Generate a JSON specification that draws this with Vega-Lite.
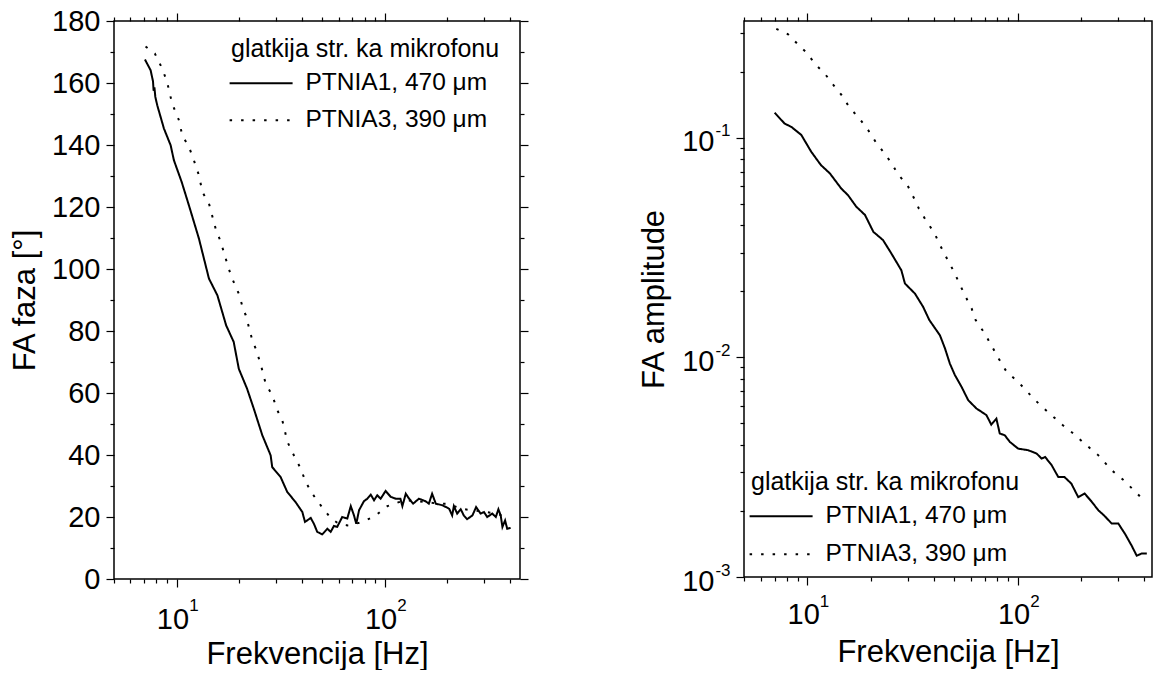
{
  "$schema": "https://vega.github.io/schema/vega-lite/v6.json",
  "padding": {"left": 8, "top": 6, "right": 0, "bottom": 0},
  "config": {
    "font": "Liberation Sans",
    "view": {"stroke": "black", "strokeWidth": 1.5},
    "axis": {"domain": false, "grid": false, "tickColor": "black", "tickWidth": 1.2, "labelColor": "black", "titleColor": "black", "titleFontWeight": "normal", "labelFlush": false, "labelOverlap": false, "labelFont": "Liberation Sans", "titleFont": "Liberation Sans"},
    "legend": {"labelColor": "black", "titleColor": "black", "titleFontWeight": "normal", "labelFont": "Liberation Sans", "titleFont": "Liberation Sans"}
  },
  "datasets": {
    "phase": [
      {"series": "PTNIA1, 470 μm", "f": 7.04, "v": 167.6},
      {"series": "PTNIA1, 470 μm", "f": 7.5, "v": 164.1},
      {"series": "PTNIA1, 470 μm", "f": 7.7, "v": 160.5},
      {"series": "PTNIA1, 470 μm", "f": 7.75, "v": 157.5},
      {"series": "PTNIA1, 470 μm", "f": 7.82, "v": 158.6},
      {"series": "PTNIA1, 470 μm", "f": 7.9, "v": 155.5},
      {"series": "PTNIA1, 470 μm", "f": 8.07, "v": 152.8},
      {"series": "PTNIA1, 470 μm", "f": 8.69, "v": 145.3},
      {"series": "PTNIA1, 470 μm", "f": 9.36, "v": 139.9},
      {"series": "PTNIA1, 470 μm", "f": 9.7, "v": 135.1},
      {"series": "PTNIA1, 470 μm", "f": 10.57, "v": 128.1},
      {"series": "PTNIA1, 470 μm", "f": 11.46, "v": 120.5},
      {"series": "PTNIA1, 470 μm", "f": 12.8, "v": 109.8},
      {"series": "PTNIA1, 470 μm", "f": 14.3, "v": 96.9},
      {"series": "PTNIA1, 470 μm", "f": 15.7, "v": 91.5},
      {"series": "PTNIA1, 470 μm", "f": 17.3, "v": 81.8},
      {"series": "PTNIA1, 470 μm", "f": 18.8, "v": 76.5},
      {"series": "PTNIA1, 470 μm", "f": 19.9, "v": 67.8},
      {"series": "PTNIA1, 470 μm", "f": 21.8, "v": 61.4},
      {"series": "PTNIA1, 470 μm", "f": 23.5, "v": 54.9},
      {"series": "PTNIA1, 470 μm", "f": 25.8, "v": 46.4},
      {"series": "PTNIA1, 470 μm", "f": 28.3, "v": 39.9},
      {"series": "PTNIA1, 470 μm", "f": 28.8, "v": 36.1},
      {"series": "PTNIA1, 470 μm", "f": 31.6, "v": 32.9},
      {"series": "PTNIA1, 470 μm", "f": 34.0, "v": 28.1},
      {"series": "PTNIA1, 470 μm", "f": 37.3, "v": 24.8},
      {"series": "PTNIA1, 470 μm", "f": 40.2, "v": 21.6},
      {"series": "PTNIA1, 470 μm", "f": 41.4, "v": 18.4},
      {"series": "PTNIA1, 470 μm", "f": 44.1, "v": 19.7},
      {"series": "PTNIA1, 470 μm", "f": 45.7, "v": 17.8},
      {"series": "PTNIA1, 470 μm", "f": 47.4, "v": 15.2},
      {"series": "PTNIA1, 470 μm", "f": 50.1, "v": 14.4},
      {"series": "PTNIA1, 470 μm", "f": 53.0, "v": 16.2},
      {"series": "PTNIA1, 470 μm", "f": 55.0, "v": 15.2},
      {"series": "PTNIA1, 470 μm", "f": 57.0, "v": 17.1},
      {"series": "PTNIA1, 470 μm", "f": 59.1, "v": 16.8},
      {"series": "PTNIA1, 470 μm", "f": 62.5, "v": 20.0},
      {"series": "PTNIA1, 470 μm", "f": 66.1, "v": 19.5},
      {"series": "PTNIA1, 470 μm", "f": 68.7, "v": 23.5},
      {"series": "PTNIA1, 470 μm", "f": 71.2, "v": 20.5},
      {"series": "PTNIA1, 470 μm", "f": 73.0, "v": 17.8},
      {"series": "PTNIA1, 470 μm", "f": 75.3, "v": 22.2},
      {"series": "PTNIA1, 470 μm", "f": 79.5, "v": 25.1},
      {"series": "PTNIA1, 470 μm", "f": 82.5, "v": 25.9},
      {"series": "PTNIA1, 470 μm", "f": 85.7, "v": 27.2},
      {"series": "PTNIA1, 470 μm", "f": 88.9, "v": 25.4},
      {"series": "PTNIA1, 470 μm", "f": 92.1, "v": 27.0},
      {"series": "PTNIA1, 470 μm", "f": 95.6, "v": 25.9},
      {"series": "PTNIA1, 470 μm", "f": 101, "v": 28.4},
      {"series": "PTNIA1, 470 μm", "f": 106.9, "v": 26.5},
      {"series": "PTNIA1, 470 μm", "f": 113, "v": 25.9},
      {"series": "PTNIA1, 470 μm", "f": 119, "v": 25.9},
      {"series": "PTNIA1, 470 μm", "f": 121.6, "v": 23.5},
      {"series": "PTNIA1, 470 μm", "f": 126.3, "v": 27.5},
      {"series": "PTNIA1, 470 μm", "f": 131, "v": 25.9},
      {"series": "PTNIA1, 470 μm", "f": 137, "v": 24.3},
      {"series": "PTNIA1, 470 μm", "f": 146, "v": 25.9},
      {"series": "PTNIA1, 470 μm", "f": 157, "v": 25.1},
      {"series": "PTNIA1, 470 μm", "f": 163, "v": 24.3},
      {"series": "PTNIA1, 470 μm", "f": 169, "v": 27.5},
      {"series": "PTNIA1, 470 μm", "f": 176, "v": 24.3},
      {"series": "PTNIA1, 470 μm", "f": 189, "v": 23.8},
      {"series": "PTNIA1, 470 μm", "f": 204, "v": 22.7},
      {"series": "PTNIA1, 470 μm", "f": 211, "v": 20.5},
      {"series": "PTNIA1, 470 μm", "f": 215, "v": 23.5},
      {"series": "PTNIA1, 470 μm", "f": 223, "v": 21.1},
      {"series": "PTNIA1, 470 μm", "f": 232, "v": 22.5},
      {"series": "PTNIA1, 470 μm", "f": 240, "v": 20.5},
      {"series": "PTNIA1, 470 μm", "f": 249, "v": 19.3},
      {"series": "PTNIA1, 470 μm", "f": 264, "v": 20.5},
      {"series": "PTNIA1, 470 μm", "f": 275, "v": 23.2},
      {"series": "PTNIA1, 470 μm", "f": 289, "v": 21.1},
      {"series": "PTNIA1, 470 μm", "f": 300, "v": 21.6},
      {"series": "PTNIA1, 470 μm", "f": 311, "v": 20.0},
      {"series": "PTNIA1, 470 μm", "f": 329, "v": 21.1},
      {"series": "PTNIA1, 470 μm", "f": 342, "v": 20.0},
      {"series": "PTNIA1, 470 μm", "f": 352, "v": 22.5},
      {"series": "PTNIA1, 470 μm", "f": 361, "v": 20.5},
      {"series": "PTNIA1, 470 μm", "f": 368, "v": 16.8},
      {"series": "PTNIA1, 470 μm", "f": 379, "v": 18.9},
      {"series": "PTNIA1, 470 μm", "f": 388, "v": 16.2},
      {"series": "PTNIA1, 470 μm", "f": 403, "v": 16.5},
      {"series": "PTNIA3, 390 μm", "f": 7.09, "v": 171.8},
      {"series": "PTNIA3, 390 μm", "f": 7.86, "v": 169.5},
      {"series": "PTNIA3, 390 μm", "f": 8.53, "v": 164.6},
      {"series": "PTNIA3, 390 μm", "f": 9.0, "v": 160.3},
      {"series": "PTNIA3, 390 μm", "f": 9.52, "v": 153.3},
      {"series": "PTNIA3, 390 μm", "f": 10.26, "v": 148.0},
      {"series": "PTNIA3, 390 μm", "f": 10.64, "v": 143.1},
      {"series": "PTNIA3, 390 μm", "f": 11.46, "v": 139.4},
      {"series": "PTNIA3, 390 μm", "f": 12.1, "v": 135.1},
      {"series": "PTNIA3, 390 μm", "f": 12.8, "v": 130.2},
      {"series": "PTNIA3, 390 μm", "f": 13.3, "v": 124.8},
      {"series": "PTNIA3, 390 μm", "f": 14.3, "v": 121.1},
      {"series": "PTNIA3, 390 μm", "f": 15.4, "v": 113.0},
      {"series": "PTNIA3, 390 μm", "f": 16.3, "v": 108.7},
      {"series": "PTNIA3, 390 μm", "f": 17.8, "v": 100.1},
      {"series": "PTNIA3, 390 μm", "f": 18.5, "v": 96.9},
      {"series": "PTNIA3, 390 μm", "f": 19.9, "v": 92.0},
      {"series": "PTNIA3, 390 μm", "f": 21.0, "v": 86.5},
      {"series": "PTNIA3, 390 μm", "f": 21.5, "v": 85.1},
      {"series": "PTNIA3, 390 μm", "f": 23.1, "v": 77.0},
      {"series": "PTNIA3, 390 μm", "f": 24.0, "v": 74.3},
      {"series": "PTNIA3, 390 μm", "f": 25.3, "v": 69.5},
      {"series": "PTNIA3, 390 μm", "f": 26.8, "v": 63.0},
      {"series": "PTNIA3, 390 μm", "f": 28.8, "v": 59.3},
      {"series": "PTNIA3, 390 μm", "f": 30.5, "v": 54.4},
      {"series": "PTNIA3, 390 μm", "f": 32.2, "v": 51.2},
      {"series": "PTNIA3, 390 μm", "f": 34.1, "v": 44.2},
      {"series": "PTNIA3, 390 μm", "f": 36.6, "v": 39.9},
      {"series": "PTNIA3, 390 μm", "f": 39.5, "v": 35.6},
      {"series": "PTNIA3, 390 μm", "f": 41.7, "v": 31.3},
      {"series": "PTNIA3, 390 μm", "f": 44.9, "v": 27.5},
      {"series": "PTNIA3, 390 μm", "f": 49.2, "v": 23.8},
      {"series": "PTNIA3, 390 μm", "f": 55.0, "v": 19.7},
      {"series": "PTNIA3, 390 μm", "f": 60.2, "v": 17.8},
      {"series": "PTNIA3, 390 μm", "f": 66.1, "v": 17.3},
      {"series": "PTNIA3, 390 μm", "f": 69.9, "v": 17.5},
      {"series": "PTNIA3, 390 μm", "f": 79.5, "v": 18.6},
      {"series": "PTNIA3, 390 μm", "f": 90.5, "v": 20.5},
      {"series": "PTNIA3, 390 μm", "f": 103, "v": 23.5},
      {"series": "PTNIA3, 390 μm", "f": 117, "v": 24.8},
      {"series": "PTNIA3, 390 μm", "f": 135, "v": 25.4},
      {"series": "PTNIA3, 390 μm", "f": 157, "v": 24.8},
      {"series": "PTNIA3, 390 μm", "f": 182, "v": 24.3},
      {"series": "PTNIA3, 390 μm", "f": 200, "v": 24.3},
      {"series": "PTNIA3, 390 μm", "f": 232, "v": 22.7},
      {"series": "PTNIA3, 390 μm", "f": 260, "v": 22.2},
      {"series": "PTNIA3, 390 μm", "f": 295, "v": 21.8},
      {"series": "PTNIA3, 390 μm", "f": 342, "v": 21.1},
      {"series": "PTNIA3, 390 μm", "f": 366, "v": 20.5},
      {"series": "PTNIA3, 390 μm", "f": 400, "v": 20.2}
    ],
    "amp": [
      {"series": "PTNIA1, 470 μm", "f": 6.99, "v": 0.130},
      {"series": "PTNIA1, 470 μm", "f": 7.8, "v": 0.116},
      {"series": "PTNIA1, 470 μm", "f": 8.4, "v": 0.112},
      {"series": "PTNIA1, 470 μm", "f": 9.36, "v": 0.103},
      {"series": "PTNIA1, 470 μm", "f": 10.44, "v": 0.0863},
      {"series": "PTNIA1, 470 μm", "f": 11.6, "v": 0.0751},
      {"series": "PTNIA1, 470 μm", "f": 12.8, "v": 0.0688},
      {"series": "PTNIA1, 470 μm", "f": 14.5, "v": 0.0587},
      {"series": "PTNIA1, 470 μm", "f": 15.6, "v": 0.0548},
      {"series": "PTNIA1, 470 μm", "f": 17.1, "v": 0.0485},
      {"series": "PTNIA1, 470 μm", "f": 18.8, "v": 0.0445},
      {"series": "PTNIA1, 470 μm", "f": 20.6, "v": 0.0373},
      {"series": "PTNIA1, 470 μm", "f": 22.9, "v": 0.0342},
      {"series": "PTNIA1, 470 μm", "f": 25.1, "v": 0.0297},
      {"series": "PTNIA1, 470 μm", "f": 28.0, "v": 0.0249},
      {"series": "PTNIA1, 470 μm", "f": 29.1, "v": 0.0217},
      {"series": "PTNIA1, 470 μm", "f": 32.5, "v": 0.0195},
      {"series": "PTNIA1, 470 μm", "f": 35.5, "v": 0.0170},
      {"series": "PTNIA1, 470 μm", "f": 38.0, "v": 0.0148},
      {"series": "PTNIA1, 470 μm", "f": 42.7, "v": 0.0126},
      {"series": "PTNIA1, 470 μm", "f": 45.1, "v": 0.0110},
      {"series": "PTNIA1, 470 μm", "f": 47.6, "v": 0.00937},
      {"series": "PTNIA1, 470 μm", "f": 50.3, "v": 0.0083},
      {"series": "PTNIA1, 470 μm", "f": 54.1, "v": 0.00734},
      {"series": "PTNIA1, 470 μm", "f": 58.2, "v": 0.00638},
      {"series": "PTNIA1, 470 μm", "f": 63.7, "v": 0.00585},
      {"series": "PTNIA1, 470 μm", "f": 71.0, "v": 0.00546},
      {"series": "PTNIA1, 470 μm", "f": 74.9, "v": 0.00494},
      {"series": "PTNIA1, 470 μm", "f": 79.2, "v": 0.00526},
      {"series": "PTNIA1, 470 μm", "f": 82.2, "v": 0.00450},
      {"series": "PTNIA1, 470 μm", "f": 86.8, "v": 0.00442},
      {"series": "PTNIA1, 470 μm", "f": 91.8, "v": 0.00412},
      {"series": "PTNIA1, 470 μm", "f": 100.6, "v": 0.00384},
      {"series": "PTNIA1, 470 μm", "f": 112, "v": 0.00378},
      {"series": "PTNIA1, 470 μm", "f": 123, "v": 0.00365},
      {"series": "PTNIA1, 470 μm", "f": 130, "v": 0.00346},
      {"series": "PTNIA1, 470 μm", "f": 135, "v": 0.00352},
      {"series": "PTNIA1, 470 μm", "f": 145, "v": 0.00323},
      {"series": "PTNIA1, 470 μm", "f": 156, "v": 0.00285},
      {"series": "PTNIA1, 470 μm", "f": 167, "v": 0.00285},
      {"series": "PTNIA1, 470 μm", "f": 180, "v": 0.00266},
      {"series": "PTNIA1, 470 μm", "f": 194, "v": 0.00231},
      {"series": "PTNIA1, 470 μm", "f": 208, "v": 0.00240},
      {"series": "PTNIA1, 470 μm", "f": 225, "v": 0.00220},
      {"series": "PTNIA1, 470 μm", "f": 242, "v": 0.00201},
      {"series": "PTNIA1, 470 μm", "f": 257, "v": 0.00191},
      {"series": "PTNIA1, 470 μm", "f": 280, "v": 0.00175},
      {"series": "PTNIA1, 470 μm", "f": 301, "v": 0.00175},
      {"series": "PTNIA1, 470 μm", "f": 324, "v": 0.00157},
      {"series": "PTNIA1, 470 μm", "f": 348, "v": 0.00139},
      {"series": "PTNIA1, 470 μm", "f": 368, "v": 0.00125},
      {"series": "PTNIA1, 470 μm", "f": 389, "v": 0.00128},
      {"series": "PTNIA1, 470 μm", "f": 411, "v": 0.00128},
      {"series": "PTNIA3, 390 μm", "f": 7.12, "v": 0.313},
      {"series": "PTNIA3, 390 μm", "f": 8.1, "v": 0.296},
      {"series": "PTNIA3, 390 μm", "f": 9.03, "v": 0.266},
      {"series": "PTNIA3, 390 μm", "f": 10.1, "v": 0.240},
      {"series": "PTNIA3, 390 μm", "f": 10.8, "v": 0.218},
      {"series": "PTNIA3, 390 μm", "f": 12.1, "v": 0.196},
      {"series": "PTNIA3, 390 μm", "f": 13.1, "v": 0.177},
      {"series": "PTNIA3, 390 μm", "f": 14.5, "v": 0.157},
      {"series": "PTNIA3, 390 μm", "f": 15.9, "v": 0.137},
      {"series": "PTNIA3, 390 μm", "f": 17.6, "v": 0.123},
      {"series": "PTNIA3, 390 μm", "f": 19.5, "v": 0.108},
      {"series": "PTNIA3, 390 μm", "f": 21.1, "v": 0.0959},
      {"series": "PTNIA3, 390 μm", "f": 23.3, "v": 0.0848},
      {"series": "PTNIA3, 390 μm", "f": 25.3, "v": 0.0759},
      {"series": "PTNIA3, 390 μm", "f": 27.0, "v": 0.068},
      {"series": "PTNIA3, 390 μm", "f": 29.9, "v": 0.0609},
      {"series": "PTNIA3, 390 μm", "f": 32.2, "v": 0.0529},
      {"series": "PTNIA3, 390 μm", "f": 33.9, "v": 0.0476},
      {"series": "PTNIA3, 390 μm", "f": 36.8, "v": 0.0417},
      {"series": "PTNIA3, 390 μm", "f": 40.1, "v": 0.0370},
      {"series": "PTNIA3, 390 μm", "f": 42.7, "v": 0.0325},
      {"series": "PTNIA3, 390 μm", "f": 45.9, "v": 0.0284},
      {"series": "PTNIA3, 390 μm", "f": 49.4, "v": 0.0249},
      {"series": "PTNIA3, 390 μm", "f": 52.6, "v": 0.0219},
      {"series": "PTNIA3, 390 μm", "f": 56.1, "v": 0.0192},
      {"series": "PTNIA3, 390 μm", "f": 60.4, "v": 0.0167},
      {"series": "PTNIA3, 390 μm", "f": 63.1, "v": 0.0148},
      {"series": "PTNIA3, 390 μm", "f": 69.9, "v": 0.0128},
      {"series": "PTNIA3, 390 μm", "f": 81.3, "v": 0.00986},
      {"series": "PTNIA3, 390 μm", "f": 88.6, "v": 0.00859},
      {"series": "PTNIA3, 390 μm", "f": 100.6, "v": 0.00773},
      {"series": "PTNIA3, 390 μm", "f": 112, "v": 0.00691},
      {"series": "PTNIA3, 390 μm", "f": 127, "v": 0.00610},
      {"series": "PTNIA3, 390 μm", "f": 145, "v": 0.00545},
      {"series": "PTNIA3, 390 μm", "f": 164, "v": 0.00491},
      {"series": "PTNIA3, 390 μm", "f": 184, "v": 0.00450},
      {"series": "PTNIA3, 390 μm", "f": 208, "v": 0.00405},
      {"series": "PTNIA3, 390 μm", "f": 242, "v": 0.00358},
      {"series": "PTNIA3, 390 μm", "f": 280, "v": 0.00306},
      {"series": "PTNIA3, 390 μm", "f": 319, "v": 0.00276},
      {"series": "PTNIA3, 390 μm", "f": 360, "v": 0.00246},
      {"series": "PTNIA3, 390 μm", "f": 402, "v": 0.00221}
    ]
  },
  "hconcat": [
    {
      "width": 406,
      "height": 558,
      "data": {"name": "phase"},
      "layer": [
        {
          "mark": {"type": "line", "color": "black", "strokeWidth": 2},
          "encoding": {
            "x": {
              "field": "f", "type": "quantitative",
              "scale": {"type": "log", "domain": [5, 447], "nice": false},
              "axis": {
                "orient": "bottom",
                "values": [5, 6, 7, 8, 9, 10, 20, 30, 40, 50, 60, 70, 80, 90, 100, 200, 300, 400],
                "labelExpr": "datum.value == 10 || datum.value == 100 ? '10' : ''",
                "tickSize": {"condition": {"test": "datum.value == 10 || datum.value == 100", "value": 8}, "value": 4},
                "labelPadding": 18, "labelAlign": "right", "labelOffset": 12, "labelFontSize": 29,
                "title": "Frekvencija [Hz]", "titleFontSize": 31, "titlePadding": 5
              }
            },
            "y": {
              "field": "v", "type": "quantitative",
              "scale": {"domain": [0, 180], "nice": false, "zero": false},
              "axis": {
                "orient": "left",
                "values": [0, 10, 20, 30, 40, 50, 60, 70, 80, 90, 100, 110, 120, 130, 140, 150, 160, 170, 180],
                "labelExpr": "datum.value % 20 == 0 ? datum.label : ''",
                "tickSize": {"condition": {"test": "datum.value % 20 == 0", "value": 8}, "value": 4},
                "labelPadding": 6, "labelFontSize": 29,
                "title": "FA faza [°]", "titleFontSize": 31, "titlePadding": 10
              }
            },
            "strokeDash": {
              "field": "series", "type": "nominal",
              "scale": {"domain": ["PTNIA1, 470 μm", "PTNIA3, 390 μm"], "range": [[1, 0], [2.5, 9]]},
              "legend": {
                "orient": "none", "legendX": 117, "legendY": 16,
                "title": "glatkija str. ka mikrofonu", "titleFontSize": 25, "titlePadding": 9, "titleLimit": 0,
                "labelFontSize": 24.5, "labelLimit": 0, "labelOffset": 50,
                "symbolType": "M-1.3,0H4.7", "symbolSize": 441, "symbolStrokeWidth": 2, "symbolStrokeColor": "black",
                "symbolFillColor": "transparent", "rowPadding": 12, "padding": 0
              }
            }
          }
        },
        {
          "mark": {"type": "point", "opacity": 0},
          "encoding": {
            "x": {
              "field": "f", "type": "quantitative",
              "axis": {
                "orient": "bottom", "values": [10, 100],
                "labelExpr": "'' + round(log(datum.value) / LN10)",
                "ticks": false, "tickSize": 0, "labelPadding": 18.7, "labelAlign": "left", "labelOffset": 12, "labelFontSize": 17,
                "title": null
              }
            },
            "y": {
              "field": "v", "type": "quantitative",
              "axis": {
                "orient": "right",
                "values": [0, 10, 20, 30, 40, 50, 60, 70, 80, 90, 100, 110, 120, 130, 140, 150, 160, 170, 180],
                "labels": false,
                "tickSize": {"condition": {"test": "datum.value % 20 == 0", "value": 8}, "value": 4},
                "title": null
              }
            }
          }
        },
        {
          "mark": {"type": "point", "opacity": 0},
          "encoding": {
            "x": {
              "field": "f", "type": "quantitative",
              "axis": {
                "orient": "top",
                "values": [5, 6, 7, 8, 9, 10, 20, 30, 40, 50, 60, 70, 80, 90, 100, 200, 300, 400],
                "labels": false,
                "tickSize": {"condition": {"test": "datum.value == 10 || datum.value == 100", "value": 8}, "value": 4},
                "title": null
              }
            },
            "y": {"field": "v", "type": "quantitative", "axis": null}
          }
        }
      ],
      "resolve": {"axis": {"x": "independent", "y": "independent"}}
    },
    {
      "width": 408,
      "height": 556,
      "data": {"name": "amp"},
      "layer": [
        {
          "mark": {"type": "line", "color": "black", "strokeWidth": 2},
          "encoding": {
            "x": {
              "field": "f", "type": "quantitative",
              "scale": {"type": "log", "domain": [5, 435], "nice": false},
              "axis": {
                "orient": "bottom",
                "values": [5, 6, 7, 8, 9, 10, 20, 30, 40, 50, 60, 70, 80, 90, 100, 200, 300, 400],
                "labelExpr": "datum.value == 10 || datum.value == 100 ? '10' : ''",
                "tickSize": {"condition": {"test": "datum.value == 10 || datum.value == 100", "value": 8}, "value": 4},
                "labelPadding": 15, "labelAlign": "right", "labelOffset": 12, "labelFontSize": 29,
                "title": "Frekvencija [Hz]", "titleFontSize": 31, "titlePadding": 8
              }
            },
            "y": {
              "field": "v", "type": "quantitative",
              "scale": {"type": "log", "domain": [0.001, 0.34], "nice": false},
              "axis": {
                "orient": "left",
                "values": [0.001, 0.002, 0.003, 0.004, 0.005, 0.006, 0.007, 0.008, 0.009, 0.01, 0.02, 0.03, 0.04, 0.05, 0.06, 0.07, 0.08, 0.09, 0.1, 0.2, 0.3],
                "labelExpr": "abs(log(datum.value) / LN10 - round(log(datum.value) / LN10)) < 0.001 ? '10' : ''",
                "tickSize": {"condition": {"test": "abs(log(datum.value) / LN10 - round(log(datum.value) / LN10)) < 0.001", "value": 8}, "value": 4},
                "labelPadding": 22, "labelOffset": 4, "labelFontSize": 29,
                "title": "FA amplitude", "titleFontSize": 31, "titlePadding": 11
              }
            },
            "strokeDash": {
              "field": "series", "type": "nominal",
              "scale": {"domain": ["PTNIA1, 470 μm", "PTNIA3, 390 μm"], "range": [[1, 0], [2.5, 9]]},
              "legend": {
                "orient": "none", "legendX": 7, "legendY": 449,
                "title": "glatkija str. ka mikrofonu", "titleFontSize": 25, "titlePadding": 9, "titleLimit": 0,
                "labelFontSize": 24.5, "labelLimit": 0, "labelOffset": 50,
                "symbolType": "M-1.3,0H4.7", "symbolSize": 441, "symbolStrokeWidth": 2, "symbolStrokeColor": "black",
                "symbolFillColor": "transparent", "rowPadding": 13, "padding": 0
              }
            }
          }
        },
        {
          "mark": {"type": "point", "opacity": 0},
          "encoding": {
            "x": {
              "field": "f", "type": "quantitative",
              "axis": {
                "orient": "bottom", "values": [10, 100],
                "labelExpr": "'' + round(log(datum.value) / LN10)",
                "ticks": false, "tickSize": 0, "labelPadding": 16.7, "labelAlign": "left", "labelOffset": 12, "labelFontSize": 17,
                "title": null
              }
            },
            "y": {
              "field": "v", "type": "quantitative",
              "axis": {
                "orient": "left", "values": [0.001, 0.01, 0.1],
                "labelExpr": "'' + round(log(datum.value) / LN10)",
                "ticks": false, "tickSize": 0, "labelPadding": 14, "labelOffset": -7, "labelFontSize": 17,
                "title": null
              }
            }
          }
        },
        {
          "mark": {"type": "point", "opacity": 0},
          "encoding": {
            "x": {
              "field": "f", "type": "quantitative",
              "axis": {
                "orient": "top",
                "values": [5, 6, 7, 8, 9, 10, 20, 30, 40, 50, 60, 70, 80, 90, 100, 200, 300, 400],
                "labels": false,
                "tickSize": {"condition": {"test": "datum.value == 10 || datum.value == 100", "value": 8}, "value": 4},
                "title": null
              }
            },
            "y": {"field": "v", "type": "quantitative", "axis": null}
          }
        }
      ],
      "resolve": {"axis": {"x": "independent", "y": "independent"}}
    }
  ],
  "spacing": 224,
  "bounds": "flush",
  "resolve": {"scale": {"strokeDash": "independent"}, "legend": {"strokeDash": "independent"}}
}
